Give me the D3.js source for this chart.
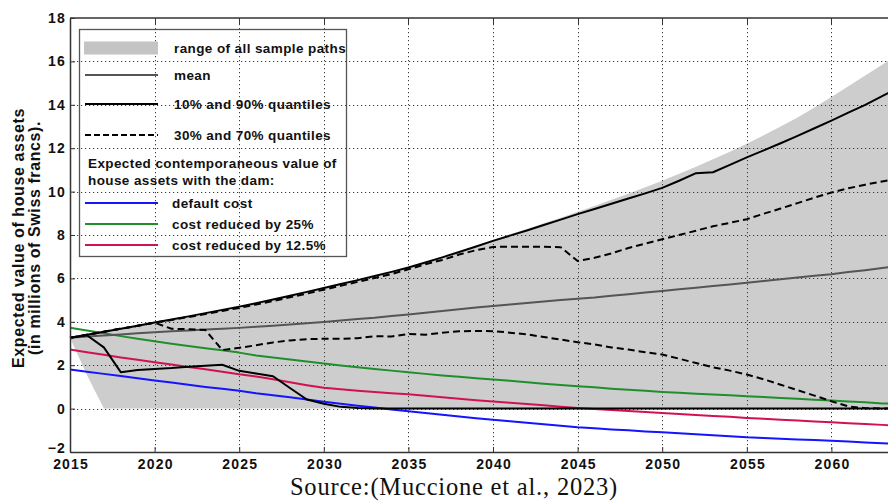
<!DOCTYPE html>
<html>
<head>
<meta charset="utf-8">
<script src="https://cdn.jsdelivr.net/npm/d3@7"></script>
<style>
  html, body { margin: 0; padding: 0; background: #fff; }
  svg { display: block; overflow: hidden; }
  .axis text { font-family: "Liberation Sans", Arial, Helvetica, sans-serif; font-weight: bold; font-size: 14px; letter-spacing: 1.2px; fill: #111; }
</style>
</head>
<body>
<svg id="chart" width="888" height="501"></svg>
<script>
// Simulated house asset values (millions CHF), one entry per year
const years = [2015,2016,2017,2018,2019,2020,2021,2022,2023,2024,2025,2026,2027,2028,2029,2030,2031,2032,2033,2034,2035,2036,2037,2038,2039,2040,2041,2042,2043,2044,2045,2046,2047,2048,2049,2050,2051,2052,2053,2054,2055,2056,2057,2058,2059,2060,2061,2062,2063,2064,2065];

const rangeMax = [3.26,3.40,3.54,3.68,3.82,3.97,4.11,4.25,4.40,4.55,4.70,4.86,5.03,5.20,5.38,5.56,5.74,5.92,6.11,6.30,6.50,6.73,6.97,7.22,7.50,7.78,8.03,8.28,8.54,8.80,9.07,9.34,9.62,9.90,10.20,10.50,10.82,11.15,11.49,11.84,12.20,12.60,13.00,13.42,13.88,14.36,14.85,15.35,15.85,16.35,16.85];
const rangeMin = [3.26,1.55,0,0,0,0,0,0,0,0,0,0,0,0,0,0,0,0,0,0,0,0,0,0,0,0,0,0,0,0,0,0,0,0,0,0,0,0,0,0,0,0,0,0,0,0,0,0,0,0,0];

const meanPath = [3.26,3.32,3.37,3.42,3.47,3.52,3.56,3.60,3.64,3.68,3.72,3.77,3.82,3.87,3.93,3.99,4.06,4.13,4.19,4.27,4.34,4.42,4.50,4.58,4.66,4.73,4.80,4.87,4.94,5.00,5.06,5.12,5.20,5.27,5.35,5.42,5.50,5.57,5.65,5.72,5.80,5.88,5.96,6.04,6.12,6.19,6.29,6.38,6.48,6.57,6.66];

const q90 = [3.26,3.40,3.54,3.68,3.82,3.97,4.11,4.25,4.40,4.55,4.70,4.86,5.03,5.20,5.38,5.56,5.74,5.92,6.11,6.30,6.50,6.73,6.97,7.22,7.47,7.73,7.97,8.21,8.46,8.71,8.96,9.20,9.44,9.68,9.92,10.17,10.50,10.85,10.89,11.23,11.58,11.90,12.23,12.57,12.92,13.27,13.64,14.00,14.40,14.80,15.20];
const q10 = [3.26,3.38,2.82,1.68,1.78,1.83,1.87,1.93,1.98,2.02,1.74,1.62,1.49,0.95,0.42,0.22,0.08,0.03,0.01,0,0,0,0,0,0,0,0,0,0,0,0,0,0,0,0,0,0,0,0,0,0,0,0,0,0,0,0,0,0,0,0];

const q70 = [3.26,3.40,3.54,3.68,3.82,3.96,4.08,4.22,4.36,4.50,4.64,4.80,4.96,5.13,5.30,5.48,5.66,5.84,6.02,6.20,6.42,6.65,6.85,7.10,7.30,7.45,7.46,7.46,7.46,7.44,6.80,6.95,7.15,7.40,7.60,7.80,8.00,8.20,8.40,8.56,8.73,8.98,9.22,9.47,9.72,9.96,10.15,10.32,10.47,10.60,10.75];
const q30 = [3.26,3.40,3.54,3.68,3.82,3.96,3.68,3.66,3.62,2.70,2.80,2.92,3.05,3.14,3.20,3.22,3.22,3.24,3.34,3.32,3.44,3.40,3.50,3.56,3.58,3.57,3.50,3.42,3.30,3.18,3.06,2.96,2.82,2.72,2.60,2.49,2.30,2.10,1.90,1.75,1.57,1.35,1.10,0.85,0.60,0.34,0.10,0.02,0,0,0];

// Expected contemporaneous value of house assets with the dam
const damDefault = [1.80,1.70,1.60,1.50,1.40,1.30,1.20,1.10,1.00,0.91,0.82,0.71,0.62,0.52,0.42,0.32,0.22,0.13,0.05,-0.04,-0.12,-0.20,-0.28,-0.36,-0.44,-0.51,-0.58,-0.65,-0.72,-0.79,-0.86,-0.91,-0.96,-1.00,-1.05,-1.09,-1.14,-1.18,-1.23,-1.27,-1.32,-1.35,-1.39,-1.42,-1.45,-1.48,-1.52,-1.56,-1.60,-1.64,-1.68];
const damCut25 = [3.73,3.60,3.47,3.34,3.22,3.10,2.99,2.88,2.78,2.69,2.58,2.45,2.36,2.26,2.17,2.08,1.99,1.91,1.83,1.75,1.68,1.60,1.53,1.47,1.40,1.34,1.28,1.21,1.15,1.09,1.03,0.98,0.92,0.87,0.82,0.77,0.73,0.69,0.65,0.61,0.57,0.53,0.49,0.45,0.41,0.37,0.33,0.29,0.24,0.21,0.17];
const damCut125 = [2.72,2.60,2.48,2.36,2.25,2.14,2.03,1.92,1.81,1.70,1.58,1.48,1.35,1.21,1.08,0.96,0.89,0.82,0.76,0.71,0.66,0.59,0.52,0.45,0.39,0.33,0.27,0.21,0.15,0.09,0.03,-0.02,-0.07,-0.11,-0.16,-0.20,-0.25,-0.29,-0.34,-0.38,-0.43,-0.47,-0.51,-0.55,-0.59,-0.63,-0.67,-0.71,-0.75,-0.79,-0.83];

const xTicks = [2015,2020,2025,2030,2035,2040,2045,2050,2055,2060];
const yTicks = [-2,0,2,4,6,8,10,12,14,16,18];

const legendItems = [
  { label: "range of all sample paths", kind: "area" },
  { label: "mean", kind: "line", color: "#555555", dash: null },
  { label: "10% and 90% quantiles", kind: "line", color: "#000000", dash: null },
  { label: "30% and 70% quantiles", kind: "line", color: "#000000", dash: "6,3" }
];
const legendHeading = ["Expected contemporaneous value of", "house assets with the dam:"];
const damItems = [
  { label: "default cost", color: "#1414ff" },
  { label: "cost reduced by 25%", color: "#1f8f2c" },
  { label: "cost reduced by 12.5%", color: "#d2124f" }
];

(function () {
  const svg = d3.select("#chart");
  const padLeft = 70, padTop = 18, padBottom = 452, padRight = 916;
  const x = d3.scaleLinear().domain([2015, 2065]).range([padLeft, padRight]);
  const y = d3.scaleLinear().domain([-2, 18]).range([padBottom, padTop]);

  const rows = years.map((yr, i) => ({ yr, i }));

  // range of sample paths
  svg.append("path")
    .datum(rows)
    .attr("fill", "#cdcdcd")
    .attr("d", d3.area().x(d => x(d.yr)).y0(d => y(rangeMin[d.i])).y1(d => y(rangeMax[d.i])));

  // dotted grid: one small square every 4 px along each gridline
  const grid = svg.append("g").attr("class", "grid").attr("fill", "#3a3a3a");
  const dotStep = 4;
  xTicks.slice(1).forEach(d => {
    const gx = Math.round(x(d));
    grid.selectAll(null).data(d3.range(padTop + 2, padBottom, dotStep)).enter().append("rect")
      .attr("x", gx).attr("y", v => v).attr("width", 1).attr("height", 1.2);
  });
  yTicks.slice(1, -1).forEach(d => {
    const gy = Math.round(y(d));
    grid.selectAll(null).data(d3.range(padLeft + 3, 888, dotStep)).enter().append("rect")
      .attr("x", v => v).attr("y", gy).attr("width", 1.2).attr("height", 1);
  });

  const line = vals => d3.line().x(d => x(d.yr)).y(d => y(vals[d.i]));

  function drawSeries(vals, color, width, dash) {
    svg.append("path").datum(rows)
      .attr("fill", "none").attr("stroke", color).attr("stroke-width", width)
      .attr("stroke-linejoin", "round")
      .attr("stroke-dasharray", dash)
      .attr("d", line(vals));
  }

  drawSeries(damDefault, damItems[0].color, 2, null);
  drawSeries(damCut25, damItems[1].color, 2, null);
  drawSeries(damCut125, damItems[2].color, 2, null);
  drawSeries(meanPath, "#555555", 2, null);
  drawSeries(q30, "#000", 2, "7,4");
  drawSeries(q70, "#000", 2, "7,4");
  drawSeries(q10, "#000", 2, null);
  drawSeries(q90, "#000", 2, null);

  // axes
  const axisColor = "#333";
  const xAxis = svg.append("g").attr("class", "axis").attr("transform", `translate(0,${padBottom})`)
    .call(d3.axisBottom(x).tickValues(xTicks).tickFormat(d3.format("d")).tickSizeInner(-5).tickSizeOuter(0).tickPadding(7));
  xAxis.selectAll(".tick text").attr("dx", "0.6px");
  const yAxis = svg.append("g").attr("class", "axis").attr("transform", `translate(${padLeft},0)`)
    .call(d3.axisLeft(y).tickValues(yTicks).tickFormat(d => d < 0 ? "\u2212" + Math.abs(d) : d).tickSizeInner(-5).tickSizeOuter(0).tickPadding(4));
  yAxis.selectAll(".tick").filter(d => d === -2).select("text").attr("y", -3.5);
  [xAxis, yAxis].forEach(g => {
    g.select(".domain").attr("stroke", axisColor).attr("stroke-width", 1.5);
    g.selectAll(".tick line").attr("stroke", axisColor).attr("stroke-width", 1);
  });
  // top frame with inward ticks
  svg.append("line").attr("x1", padLeft).attr("x2", padRight).attr("y1", padTop).attr("y2", padTop)
    .attr("stroke", axisColor).attr("stroke-width", 1.5);
  svg.append("g").selectAll("line").data(xTicks.slice(1)).join("line")
    .attr("x1", d => Math.round(x(d)) + 0.5).attr("x2", d => Math.round(x(d)) + 0.5).attr("y1", padTop).attr("y2", padTop + 6)
    .attr("stroke", axisColor);

  // axis title
  const font = '"Liberation Sans", Arial, Helvetica, sans-serif';
  const ytitle = svg.append("text").attr("transform", "translate(23.5,238) rotate(-90)")
    .attr("text-anchor", "middle").attr("font-family", font).attr("font-weight", "bold")
    .attr("font-size", 16).attr("letter-spacing", 0.6).attr("fill", "#111");
  ytitle.append("tspan").attr("x", 0).attr("y", 0).text("Expected value of house assets");
  ytitle.append("tspan").attr("x", 0).attr("y", 16.5).text("(in millions of Swiss francs).");

  // legend
  const lg = svg.append("g");
  lg.append("rect").attr("x", 79.5).attr("y", 29.5).attr("width", 267).attr("height", 227)
    .attr("fill", "none").attr("stroke", "#555").attr("stroke-width", 1.3);
  const sx0 = 85, sx1 = 158, tx = 174;
  const textAttrs = sel => sel.attr("font-family", font).attr("font-weight", "bold")
    .attr("font-size", 13.5).attr("letter-spacing", 0.4).attr("fill", "#111");
  const rowY = [48, 75, 104, 135];
  legendItems.forEach((it, k) => {
    const cy = rowY[k];
    if (it.kind === "area") {
      lg.append("rect").attr("x", sx0 - 1).attr("y", cy - 6.5).attr("width", sx1 - sx0 + 1).attr("height", 13).attr("fill", "#c4c4c4");
    } else {
      lg.append("line").attr("x1", sx0).attr("x2", sx1).attr("y1", cy).attr("y2", cy)
        .attr("stroke", it.color).attr("stroke-width", 2).attr("stroke-dasharray", it.dash);
    }
    lg.append("text").attr("x", tx).attr("y", cy + 5).call(textAttrs).text(it.label);
  });
  legendHeading.forEach((t, k) => {
    lg.append("text").attr("x", 88).attr("y", 168 + k * 17).call(textAttrs).text(t);
  });
  const damY = [203, 224, 245];
  damItems.forEach((it, k) => {
    lg.append("line").attr("x1", sx0).attr("x2", sx1).attr("y1", damY[k]).attr("y2", damY[k])
      .attr("stroke", it.color).attr("stroke-width", 2);
    lg.append("text").attr("x", 172).attr("y", damY[k] + 5).call(textAttrs).text(it.label);
  });

  // source line
  svg.append("text").attr("x", 454).attr("y", 495).attr("text-anchor", "middle")
    .attr("font-family", '"Liberation Serif", "Times New Roman", serif').attr("font-size", 24.5)
    .attr("letter-spacing", 0.8).attr("fill", "#111")
    .text("Source:(Muccione et al., 2023)");
})();
</script>
</body>
</html>
